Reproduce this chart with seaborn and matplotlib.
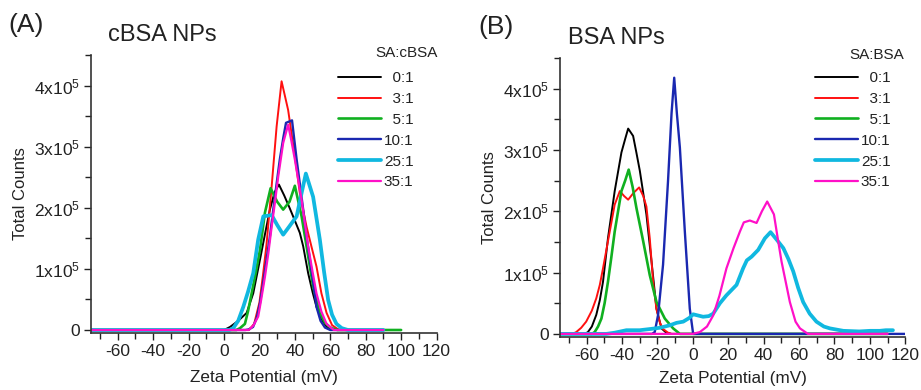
import numpy as np
import pandas as pd
import matplotlib
matplotlib.use("Agg")
import matplotlib.pyplot as plt
import seaborn as sns
from matplotlib.ticker import FixedLocator, FixedFormatter, MultipleLocator
from matplotlib.lines import Line2D

# ---------------- data ----------------
ratios = ["0:1", "3:1", "5:1", "10:1", "25:1", "35:1"]
colors = ["#000000", "#FF1010", "#10B020", "#1A28B0", "#10B8E0", "#FF10C8"]
widths = [1.4, 1.4, 1.9, 1.7, 2.7, 1.6]

# Panel A (cBSA NPs): zeta potential (mV) and counts (x1e5)
a_x_0 = [-75, 0, 3.4, 8, 12.8, 16.5, 20.3, 23, 25.9, 28.5, 31, 34, 37, 39, 42.8, 44.7, 47.5, 50, 52.2, 55, 58, 61, 90]
a_y_0 = [0, 0, 0.05, 0.15, 0.28, 0.6, 1.15, 1.55, 1.97, 2.25, 2.38, 2.2, 2.0, 1.86, 1.59, 1.37, 0.93, 0.62, 0.38, 0.18, 0.05, 0, 0]
a_x_3 = [-75, 14, 17, 20, 22, 24, 26.9, 29.7, 32.5, 36.2, 40, 43, 46.6, 49.5, 52.2, 55, 57.9, 61, 65, 90]
a_y_3 = [0, 0, 0.1, 0.45, 0.9, 1.4, 2.35, 3.33, 4.07, 3.6, 2.84, 2.2, 1.69, 1.35, 1.04, 0.6, 0.28, 0.08, 0, 0]
a_x_5 = [-75, 7, 9, 11.8, 13.5, 15.6, 18, 20.3, 23.1, 26.3, 30, 33.4, 37, 40, 43.8, 46.6, 50.3, 54, 57, 60, 64, 90, 100]
a_y_5 = [0, 0, 0.03, 0.1, 0.3, 0.6, 0.95, 1.31, 1.92, 2.32, 2.1, 1.97, 2.1, 2.36, 1.86, 1.37, 0.71, 0.28, 0.12, 0.04, 0, 0, 0]
a_x_10 = [-75, 12, 14, 16.4, 18.5, 20.3, 22, 24, 26, 27.8, 29.5, 31.5, 33.5, 35, 38.4, 41, 43, 44.7, 46.5, 48.5, 50.5, 52.2, 54.5, 57, 60, 90]
a_y_10 = [0, 0, 0.01, 0.05, 0.2, 0.44, 0.75, 1.15, 1.55, 1.97, 2.35, 2.79, 3.15, 3.39, 3.43, 2.79, 2.35, 1.97, 1.55, 1.15, 0.75, 0.38, 0.15, 0.04, 0, 0]
a_x_25 = [-75, 3, 5.2, 8, 10.9, 13.5, 16.5, 19.3, 22.2, 26.9, 30, 33.4, 36.5, 41, 43.5, 46.2, 50.3, 54.1, 56.5, 58.8, 61, 63.5, 66.5, 70, 90]
a_y_25 = [0, 0, 0.03, 0.15, 0.38, 0.62, 0.93, 1.48, 1.86, 1.88, 1.72, 1.56, 1.68, 1.86, 2.2, 2.56, 2.18, 1.48, 0.95, 0.49, 0.25, 0.1, 0.03, 0, 0]
a_x_35 = [-75, 14, 16.5, 19.3, 21, 23.1, 25, 26.9, 28.8, 30.6, 33.4, 36.2, 38, 40, 43.8, 47.5, 50, 52.2, 55, 57.9, 62, 90]
a_y_35 = [0, 0, 0.07, 0.22, 0.5, 0.87, 1.25, 1.69, 2.1, 2.51, 3.06, 3.36, 3.1, 2.79, 2.13, 1.37, 0.95, 0.6, 0.3, 0.1, 0, 0]

# Panel B (BSA NPs)
b_x_0 = [-75, -61, -59.2, -57, -54.5, -52.5, -50.7, -47.9, -44.1, -40.3, -38, -36.5, -33.7, -31.8, -29.9, -28, -26.2, -23.3, -20.5, -17.7, -15, -12, 110]
b_y_0 = [0, 0, 0.03, 0.12, 0.31, 0.55, 0.85, 1.56, 2.33, 2.96, 3.2, 3.35, 3.23, 2.95, 2.66, 2.3, 1.95, 1.18, 0.41, 0.09, 0.02, 0, 0]
b_x_3 = [-75, -68, -65.8, -63, -60.2, -57, -54.5, -52.5, -50.7, -48.8, -46.9, -44.1, -41.2, -38.8, -36.5, -33.5, -30.3, -28, -26.2, -24.3, -22.4, -20.5, -18.5, -16.8, -14, -12, 110]
b_y_3 = [0, 0, 0.03, 0.1, 0.2, 0.38, 0.58, 0.8, 1.07, 1.37, 1.67, 2.11, 2.33, 2.25, 2.19, 2.3, 2.39, 2.25, 2.08, 1.56, 0.85, 0.4, 0.18, 0.08, 0.02, 0, 0]
b_x_5 = [-75, -57, -55.4, -53.5, -51.6, -49.8, -47.9, -46, -44.1, -42.2, -40.3, -38.2, -36.2, -34, -31.8, -28, -24.3, -20.5, -15.8, -11.1, -7.3, 110]
b_y_5 = [0, 0, 0.03, 0.12, 0.25, 0.5, 0.85, 1.25, 1.67, 2.0, 2.33, 2.5, 2.68, 2.4, 2.05, 1.51, 0.96, 0.52, 0.25, 0.09, 0, 0]
b_x_10 = [-75, -23, -21.5, -19.6, -16.8, -14, -12, -10.5, -9, -7.3, -4.5, -1.7, 0.2, 120]
b_y_10 = [0, 0, 0.03, 0.31, 1.13, 2.49, 3.6, 4.18, 3.6, 3.04, 1.67, 0.41, 0, 0]
b_x_25 = [-75, -48.8, -44, -37.5, -30, -24, -18.6, -13, -9.2, -5.4, -2, 0.2, 3, 5.8, 9, 11.5, 15.3, 19, 24.7, 28.4, 30.5, 33.2, 36.9, 40.7, 43.9, 47.3, 51.1, 54, 56.7, 59.5, 62.3, 66, 69.8, 74, 77.4, 85, 94, 100, 105.6, 109, 113]
b_y_25 = [0, 0, 0.02, 0.06, 0.06, 0.08, 0.1, 0.14, 0.18, 0.2, 0.26, 0.32, 0.3, 0.28, 0.29, 0.33, 0.5, 0.63, 0.8, 1.07, 1.2, 1.26, 1.37, 1.56, 1.66, 1.54, 1.4, 1.22, 1.02, 0.75, 0.52, 0.33, 0.2, 0.12, 0.09, 0.05, 0.04, 0.05, 0.05, 0.06, 0.06]
b_x_35 = [-75, 0, 4, 8, 11.5, 15, 19, 23, 26.6, 28.8, 32.2, 36, 39, 42, 45.8, 48, 50.1, 54.8, 58, 60.5, 65, 110]
b_y_35 = [0, 0, 0.03, 0.12, 0.3, 0.62, 1.07, 1.4, 1.67, 1.82, 1.85, 1.81, 2.0, 2.16, 1.95, 1.55, 1.18, 0.52, 0.2, 0.09, 0, 0]

panel_a = [(a_x_0, a_y_0), (a_x_3, a_y_3), (a_x_5, a_y_5), (a_x_10, a_y_10), (a_x_25, a_y_25), (a_x_35, a_y_35)]
panel_b = [(b_x_0, b_y_0), (b_x_3, b_y_3), (b_x_5, b_y_5), (b_x_10, b_y_10), (b_x_25, b_y_25), (b_x_35, b_y_35)]

x_ticks = [-60, -40, -20, 0, 20, 40, 60, 80, 100, 120]
y_ticks = [0, 1e5, 2e5, 3e5, 4e5]
y_tick_labels = ["0", r"1x10$^5$", r"2x10$^5$", r"3x10$^5$", r"4x10$^5$"]
legend_labels = ["  0:1", "  3:1", "  5:1", "10:1", "25:1", "35:1"]

# ---------------- style ----------------
sns.set_theme(style="ticks")
plt.rcParams["font.family"] = ["Liberation Sans", "DejaVu Sans"]
plt.rcParams["mathtext.fontset"] = "custom"
plt.rcParams["mathtext.rm"] = "Liberation Sans"
plt.rcParams["mathtext.it"] = "Liberation Sans"
plt.rcParams["mathtext.default"] = "regular"

TXT = "#222222"
fig = plt.figure(figsize=(9.21, 3.9), dpi=100)
axA = fig.add_axes([0.099, 0.146, 0.375, 0.713])
axB = fig.add_axes([0.608, 0.136, 0.375, 0.715])


def draw(ax, panel, leg_title, leg_anchor, leg_title_pos, xlabelpad):
    for (xs, ys), col, lw in zip(panel, colors, widths):
        df = pd.DataFrame({"x": xs, "y": np.array(ys) * 1e5})
        sns.lineplot(data=df, x="x", y="y", ax=ax, color=col, lw=lw, sort=False,
                     estimator=None, legend=False)
    ax.set_xlim(-75, 120)
    ax.set_ylim(-5000, 4.5e5)
    ax.xaxis.set_major_locator(FixedLocator(x_ticks))
    ax.xaxis.set_major_formatter(FixedFormatter([str(v) for v in x_ticks]))
    ax.xaxis.set_minor_locator(MultipleLocator(10))
    ax.yaxis.set_major_locator(FixedLocator(y_ticks))
    ax.yaxis.set_major_formatter(FixedFormatter(y_tick_labels))
    ax.yaxis.set_minor_locator(MultipleLocator(0.5e5))
    ax.tick_params(which="major", direction="out", length=5, width=1, labelsize=12.5, colors=TXT, pad=3)
    ax.tick_params(which="minor", direction="out", length=4, width=1, colors=TXT)
    for s in ["top", "right"]:
        ax.spines[s].set_visible(False)
    for s in ["left", "bottom"]:
        ax.spines[s].set_color("#333333")
        ax.spines[s].set_linewidth(1.2)
    ax.set_xlabel("Zeta Potential (mV)", fontsize=12.3, labelpad=xlabelpad, color=TXT)
    ax.set_ylabel("Total Counts", fontsize=12, labelpad=4, color=TXT)
    handles = [Line2D([], [], color=c, lw=w) for c, w in zip(colors, widths)]
    leg = ax.legend(handles, legend_labels, loc="upper left", bbox_to_anchor=leg_anchor,
                    bbox_transform=fig.transFigure, frameon=False, fontsize=11,
                    handlelength=2.8, handletextpad=0.2, labelspacing=0.45,
                    borderpad=0, borderaxespad=0)
    for t in leg.get_texts():
        t.set_color(TXT)
    fig.text(leg_title_pos[0], leg_title_pos[1], leg_title, fontsize=11,
             ha="center", va="center", color=TXT)


draw(axA, panel_a, "SA:cBSA", (338 / 921, 1 - 71 / 390), (407 / 921, 1 - 53 / 390), 8)
draw(axB, panel_b, "SA:BSA", (815 / 921, 1 - 71 / 390), (877 / 921, 1 - 55 / 390), 6)

fig.text(8 / 921, 1 - 25 / 390, "(A)", fontsize=19, ha="left", va="center", color=TXT)
fig.text(108 / 921, 1 - 35 / 390, "cBSA NPs", fontsize=17, ha="left", va="center", color=TXT)
fig.text(478 / 921, 1 - 27 / 390, "(B)", fontsize=19, ha="left", va="center", color=TXT)
fig.text(568 / 921, 1 - 38 / 390, "BSA NPs", fontsize=17, ha="left", va="center", color=TXT)

fig.savefig("out.png", dpi=100)
